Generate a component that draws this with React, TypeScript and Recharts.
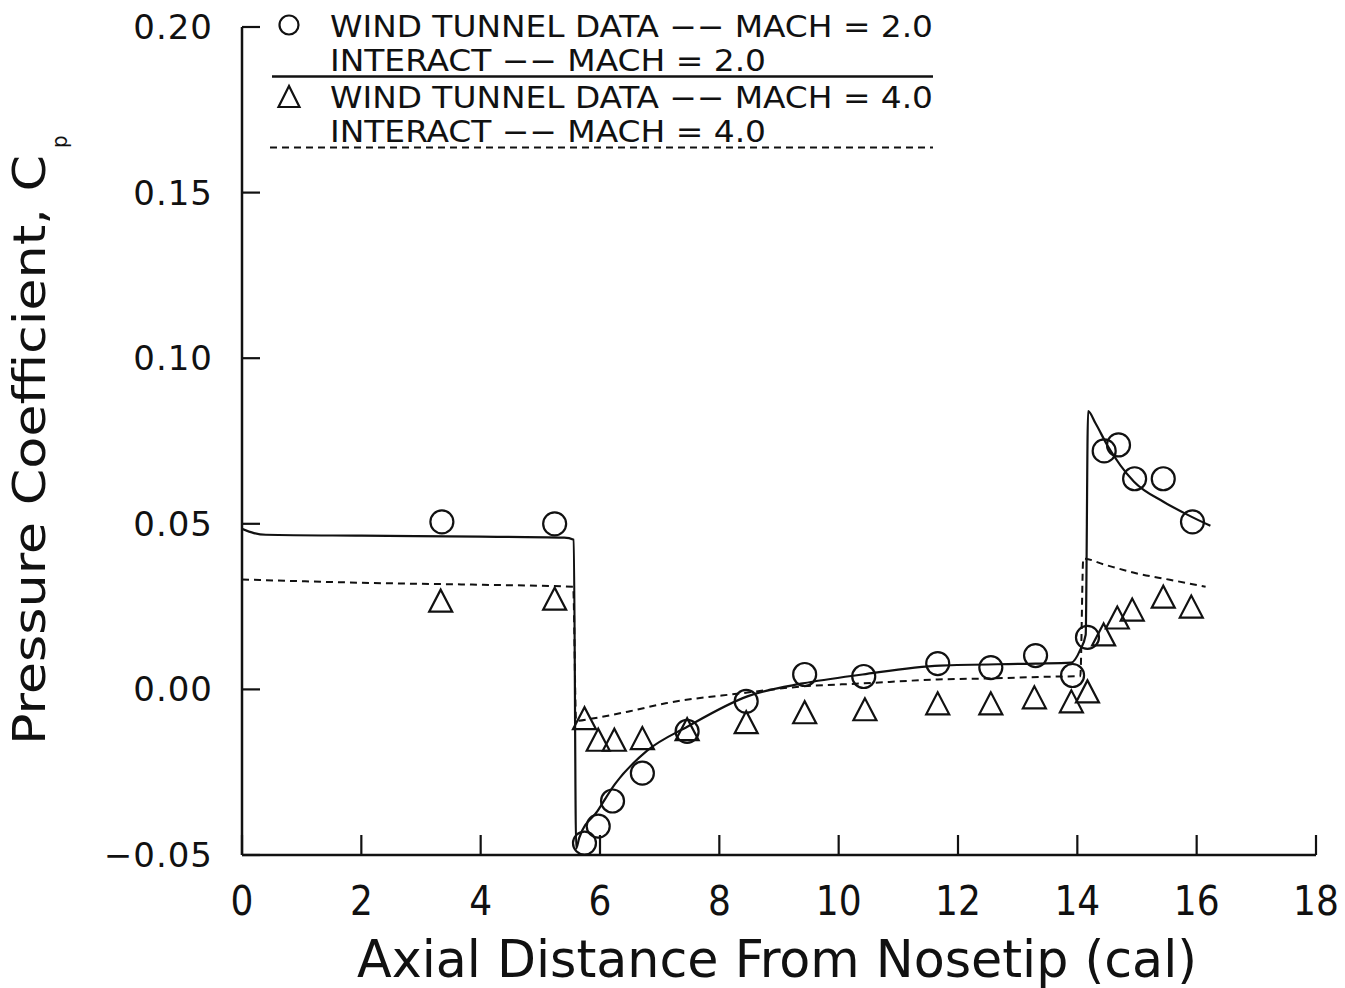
import React from "react";
import {
  ComposedChart,
  Line,
  Scatter,
  XAxis,
  YAxis,
  Legend,
} from "recharts";

// ---- data ----
const xTicks = [0, 2, 4, 6, 8, 10, 12, 14, 16, 18];
const yTicks = [-0.05, 0, 0.05, 0.1, 0.15, 0.2];

const windTunnelMach2 = [
  { x: 3.35, y: 0.0506 },
  { x: 5.24, y: 0.05 },
  { x: 5.74, y: -0.0464 },
  { x: 5.97, y: -0.0413 },
  { x: 6.21, y: -0.0337 },
  { x: 6.71, y: -0.0253 },
  { x: 7.46, y: -0.0127 },
  { x: 8.45, y: -0.0036 },
  { x: 9.43, y: 0.0045 },
  { x: 10.42, y: 0.0039 },
  { x: 11.66, y: 0.0078 },
  { x: 12.55, y: 0.0066 },
  { x: 13.3, y: 0.0102 },
  { x: 13.92, y: 0.0042 },
  { x: 14.17, y: 0.0157 },
  { x: 14.45, y: 0.072 },
  { x: 14.69, y: 0.0738 },
  { x: 14.96, y: 0.0636 },
  { x: 15.44, y: 0.0636 },
  { x: 15.93, y: 0.0506 },
];

const windTunnelMach4 = [
  { x: 3.33, y: 0.0265 },
  { x: 5.24, y: 0.0271 },
  { x: 5.74, y: -0.009 },
  { x: 5.97, y: -0.0155 },
  { x: 6.24, y: -0.0155 },
  { x: 6.71, y: -0.015 },
  { x: 7.46, y: -0.0123 },
  { x: 8.45, y: -0.0102 },
  { x: 9.43, y: -0.0072 },
  { x: 10.44, y: -0.0063 },
  { x: 11.66, y: -0.0045 },
  { x: 12.55, y: -0.0045 },
  { x: 13.28, y: -0.0027 },
  { x: 13.9, y: -0.0039 },
  { x: 14.17, y: -0.0009 },
  { x: 14.44, y: 0.0163 },
  { x: 14.67, y: 0.0214 },
  { x: 14.92, y: 0.0238 },
  { x: 15.44, y: 0.0277 },
  { x: 15.91, y: 0.0247 },
];

const interactMach2 = [
  { x: 0, y: 0.0485 },
  { x: 0.2, y: 0.0472 },
  { x: 0.4, y: 0.0467 },
  { x: 2, y: 0.0464 },
  { x: 4, y: 0.0461 },
  { x: 5.4, y: 0.0458 },
  { x: 5.56, y: 0.0452 },
  { x: 5.6, y: -0.048 },
  { x: 5.65, y: -0.0449 },
  { x: 5.96, y: -0.0367 },
  { x: 6.25, y: -0.0286 },
  { x: 6.79, y: -0.0185 },
  { x: 7.47, y: -0.0112 },
  { x: 8.47, y: -0.0021 },
  { x: 9.4, y: 0.0018 },
  { x: 10.4, y: 0.0045 },
  { x: 11.7, y: 0.0072 },
  { x: 13.3, y: 0.0078 },
  { x: 13.9, y: 0.0081 },
  { x: 14.05, y: 0.012 },
  { x: 14.14, y: 0.0165 },
  { x: 14.18, y: 0.084 },
  { x: 14.3, y: 0.0805 },
  { x: 14.5, y: 0.0738 },
  { x: 14.95, y: 0.0627 },
  { x: 15.45, y: 0.0566 },
  { x: 15.85, y: 0.0527 },
  { x: 16.23, y: 0.0494 },
];

const interactMach4 = [
  { x: 0, y: 0.0332 },
  { x: 2, y: 0.0322 },
  { x: 4, y: 0.0316 },
  { x: 5.55, y: 0.031 },
  { x: 5.6, y: -0.0095 },
  { x: 5.9, y: -0.0087 },
  { x: 6.5, y: -0.0066 },
  { x: 7.1, y: -0.0042 },
  { x: 8.35, y: -0.0012 },
  { x: 9.4, y: 0.0009 },
  { x: 10.4, y: 0.0018 },
  { x: 11.66, y: 0.003 },
  { x: 12.5, y: 0.0033 },
  { x: 13.7, y: 0.0039 },
  { x: 14.05, y: 0.004 },
  { x: 14.1, y: 0.0395 },
  { x: 14.45, y: 0.0377 },
  { x: 15.0, y: 0.035 },
  { x: 15.55, y: 0.0331 },
  { x: 16.15, y: 0.031 },
];

const legendRows = [
  "WIND TUNNEL DATA −− MACH = 2.0",
  "INTERACT −− MACH = 2.0",
  "WIND TUNNEL DATA −− MACH = 4.0",
  "INTERACT −− MACH = 4.0",
];

const xTitle = "Axial Distance From Nosetip  (cal)";
const yTitle = "Pressure Coefficient, C";
const yTitleSub = "p";

// ---- styles ----
const INK = "#111";
const tickFont = "'DejaVu Sans', Verdana, sans-serif";
const narrowFont = "'DejaVu Sans Condensed', 'Liberation Sans Narrow', 'DejaVu Sans', sans-serif";

const CircleMark = (p: any) => (
  <circle cx={p.cx} cy={p.cy} r={11.5} fill="none" stroke={INK} strokeWidth={2.2} />
);
const TriMark = (p: any) => (
  <polygon
    points={`${p.cx},${p.cy - 12} ${p.cx - 11.5},${p.cy + 10} ${p.cx + 11.5},${p.cy + 10}`}
    fill="none"
    stroke={INK}
    strokeWidth={2.2}
    strokeLinejoin="miter"
  />
);

const fmtY = (v: number) => (v < 0 ? "−" + Math.abs(v).toFixed(2) : v.toFixed(2));

const YTick = (p: any) => {
  const ax = p.x;
  const y = p.y;
  return (
    <g>
      <line x1={ax} x2={ax + 18} y1={y} y2={y} stroke={INK} strokeWidth={2.2} />
      <text
        x={ax - 29}
        y={y + 12}
        textAnchor="end"
        fontFamily={tickFont}
        fontSize={34}
        letterSpacing={1}
        fill={INK}
      >
        {fmtY(p.payload.value)}
      </text>
    </g>
  );
};

const XTick = (p: any) => {
  const x = p.x;
  const ay = p.y;
  return (
    <g>
      <line x1={x} x2={x} y1={ay} y2={ay - 20} stroke={INK} strokeWidth={2.2} />
      <text
        x={x}
        y={ay + 60}
        textAnchor="middle"
        fontFamily={narrowFont}
        fontSize={40}
        fill={INK}
      >
        {p.payload.value}
      </text>
    </g>
  );
};

const XTitle = () => (
  <text
    x={777}
    y={977}
    textAnchor="middle"
    fontFamily={narrowFont}
    fontSize={52}
    textLength={840}
    lengthAdjust="spacingAndGlyphs"
    fill={INK}
  >
    {xTitle}
  </text>
);

const YTitle = () => (
  <g transform="translate(45, 745) rotate(-90)">
    <text
      x={0}
      y={0}
      fontFamily={narrowFont}
      fontSize={45}
      textLength={590}
      lengthAdjust="spacingAndGlyphs"
      fill={INK}
    >
      {yTitle}
    </text>
    <text x={597} y={22} fontFamily={narrowFont} fontSize={22} fill={INK}>
      {yTitleSub}
    </text>
  </g>
);

const LegendBox = () => {
  const textProps = {
    fontFamily: narrowFont,
    fontSize: 30,
    fill: INK,
    lengthAdjust: "spacingAndGlyphs" as const,
  };
  return (
    <svg width={1345} height={170} style={{ display: "block" }}>
      <circle cx={289} cy={25} r={9.5} fill="none" stroke={INK} strokeWidth={2.2} />
      <text x={330} y={37} textLength={603} {...textProps}>{legendRows[0]}</text>
      <text x={330} y={71} textLength={436} {...textProps}>{legendRows[1]}</text>
      <line x1={272} x2={933} y1={76.5} y2={76.5} stroke={INK} strokeWidth={2.5} />
      <polygon points="289,86 278.5,107 299.5,107" fill="none" stroke={INK} strokeWidth={2.2} />
      <text x={330} y={108} textLength={603} {...textProps}>{legendRows[2]}</text>
      <text x={330} y={142} textLength={436} {...textProps}>{legendRows[3]}</text>
      <line x1={270} x2={933} y1={147.5} y2={147.5} stroke={INK} strokeWidth={2} strokeDasharray="7 5" />
    </svg>
  );
};

export default function App() {
  return (
    <div style={{ position: "absolute", left: 0, top: 0, width: 1345, height: 988, background: "#fff" }}>
      <ComposedChart
        width={1345}
        height={988}
        margin={{ top: 27, right: 29, bottom: 33, left: 0 }}
        style={{ background: "#fff" }}
      >
        <XAxis
          type="number"
          dataKey="x"
          domain={[0, 18]}
          ticks={xTicks}
          interval={0}
          allowDataOverflow
          height={100}
          tickSize={0}
          tickMargin={0}
          tickLine={false}
          axisLine={{ stroke: INK, strokeWidth: 2.5 }}
          tick={<XTick />}
          label={<XTitle />}
        />
        <YAxis
          type="number"
          dataKey="y"
          domain={[-0.05, 0.2]}
          ticks={yTicks}
          interval={0}
          allowDataOverflow
          width={242}
          tickSize={0}
          tickMargin={0}
          tickLine={false}
          axisLine={{ stroke: INK, strokeWidth: 2.5 }}
          tick={<YTick />}
          label={<YTitle />}
        />
        <Legend
          layout="horizontal"
          verticalAlign="middle"
          align="center"
          wrapperStyle={{ position: "absolute", left: 0, top: 0, width: 1345, height: 170, margin: 0, pointerEvents: "none" }}
          content={() => <LegendBox />}
        />
        <Line
          data={interactMach2}
          dataKey="y"
          type="monotone"
          stroke={INK}
          strokeWidth={2.2}
          dot={false}
          activeDot={false}
          isAnimationActive={false}
          legendType="none"
        />
        <Line
          data={interactMach4}
          dataKey="y"
          type="monotone"
          stroke={INK}
          strokeWidth={2}
          strokeDasharray="7 5"
          dot={false}
          activeDot={false}
          isAnimationActive={false}
          legendType="none"
        />
        <Scatter data={windTunnelMach2} dataKey="y" shape={<CircleMark />} isAnimationActive={false} legendType="none" />
        <Scatter data={windTunnelMach4} dataKey="y" shape={<TriMark />} isAnimationActive={false} legendType="none" />
      </ComposedChart>
    </div>
  );
}
